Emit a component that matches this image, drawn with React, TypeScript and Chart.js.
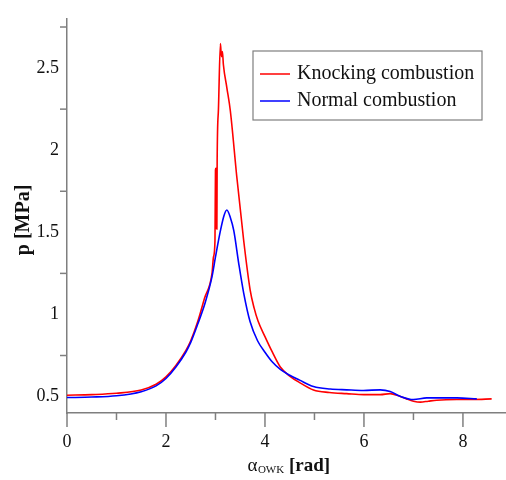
import React, { useEffect, useRef } from "react";
import { Chart, registerables } from "chart.js";

Chart.register(...registerables);

// Knocking combustion (red)
const knockAngle = [0, 0.5, 1.0, 1.5, 1.8, 2.0, 2.2, 2.4, 2.5, 2.64, 2.78, 2.93, 2.96, 2.99, 3.0, 3.01, 3.018, 3.028, 3.034, 3.06, 3.1, 3.12, 3.14, 3.16, 3.23, 3.3, 3.43, 3.57, 3.7, 3.78, 3.86, 4.0, 4.15, 4.31, 4.5, 4.7, 4.98, 5.3, 5.65, 6.0, 6.33, 6.53, 6.7, 6.86, 7.0, 7.14, 7.3, 7.47, 7.88, 8.21, 8.58];
const knockPressure = [0.508, 0.512, 0.52, 0.54, 0.575, 0.62, 0.69, 0.78, 0.84, 0.955, 1.1, 1.25, 1.35, 1.45, 1.88, 1.89, 1.53, 1.52, 1.94, 2.25, 2.65, 2.57, 2.6, 2.52, 2.38, 2.24, 1.84, 1.45, 1.15, 1.04, 0.96, 0.865, 0.77, 0.68, 0.625, 0.585, 0.54, 0.525, 0.518, 0.512, 0.512, 0.518, 0.505, 0.486, 0.472, 0.466, 0.472, 0.478, 0.482, 0.482, 0.486];

// Normal combustion (blue)
const normalAngle = [0, 0.5, 1.0, 1.5, 1.8, 2.0, 2.2, 2.4, 2.5, 2.64, 2.79, 2.93, 3.0, 3.1, 3.17, 3.23, 3.3, 3.37, 3.47, 3.57, 3.7, 3.85, 4.0, 4.15, 4.31, 4.5, 4.7, 4.98, 5.32, 5.65, 5.99, 6.33, 6.53, 6.73, 7.0, 7.27, 7.88, 8.28];
const normalPressure = [0.494, 0.497, 0.505, 0.53, 0.565, 0.61, 0.68, 0.77, 0.83, 0.94, 1.07, 1.23, 1.35, 1.51, 1.6, 1.636, 1.59, 1.51, 1.31, 1.13, 0.955, 0.84, 0.77, 0.71, 0.665, 0.63, 0.6, 0.561, 0.546, 0.541, 0.537, 0.541, 0.531, 0.502, 0.482, 0.492, 0.492, 0.486];

const xLabelTicks = [0, 2, 4, 6, 8];
const xMarkTicks = [0, 1, 2, 3, 4, 5, 6, 7, 8];
const yLabelTicks = [0.5, 1, 1.5, 2, 2.5];
const yMarkTicks = [0.75, 1.25, 1.75, 2.25, 2.75];

const seriesNames = ["Knocking combustion", "Normal combustion"];
const seriesColors = ["#ff0000", "#0000ff"];

const FONT = '"Liberation Serif", "Times New Roman", serif';
const AXIS_COLOR = "#7f7f7f";

const decorPlugin = {
  id: "decor",
  afterDraw(chart: any) {
    const ctx = chart.ctx;
    const xs = chart.scales.x;
    const ys = chart.scales.y;
    const area = chart.chartArea;
    ctx.save();
    ctx.strokeStyle = AXIS_COLOR;
    ctx.lineWidth = 1.5;
    // x tick marks
    xMarkTicks.forEach((v) => {
      const px = xs.getPixelForValue(v);
      const len = v % 2 === 0 ? 14 : 7;
      ctx.beginPath();
      ctx.moveTo(px, area.bottom);
      ctx.lineTo(px, area.bottom + len);
      ctx.stroke();
    });
    // y tick marks
    yMarkTicks.forEach((v) => {
      const py = ys.getPixelForValue(v);
      ctx.beginPath();
      ctx.moveTo(area.left - 7, py);
      ctx.lineTo(area.left, py);
      ctx.stroke();
    });

    // y title
    ctx.fillStyle = "#111";
    ctx.font = `bold 20px ${FONT}`;
    ctx.textAlign = "center";
    ctx.textBaseline = "middle";
    ctx.save();
    ctx.translate(24, (area.top + area.bottom) / 2 + 4);
    ctx.rotate(-Math.PI / 2);
    ctx.fillText("p [MPa]", 0, 0);
    ctx.restore();

    // x title: alpha with subscript OWK and bold [rad]
    const partA = "α";
    const partSub = "OWK";
    const partB = " [rad]";
    ctx.font = `19px ${FONT}`;
    const wA = ctx.measureText(partA).width;
    ctx.font = `11px ${FONT}`;
    const wSub = ctx.measureText(partSub).width;
    ctx.font = `bold 19px ${FONT}`;
    const wB = ctx.measureText(partB).width;
    const total = wA + wSub + wB;
    let tx = (area.left + area.right) / 2 - total / 2 + 2;
    const ty = 471;
    ctx.textAlign = "left";
    ctx.textBaseline = "alphabetic";
    ctx.font = `19px ${FONT}`;
    ctx.fillText(partA, tx, ty);
    tx += wA + 0.5;
    ctx.font = `11px ${FONT}`;
    ctx.fillText(partSub, tx, ty + 2);
    tx += wSub;
    ctx.font = `bold 19px ${FONT}`;
    ctx.fillText(partB, tx, ty);

    // legend
    const bx = 253, by = 51, bw = 229, bh = 69;
    ctx.fillStyle = "#ffffff";
    ctx.fillRect(bx, by, bw, bh);
    ctx.strokeStyle = AXIS_COLOR;
    ctx.lineWidth = 1.2;
    ctx.strokeRect(bx, by, bw, bh);
    const rows = [74, 101];
    ctx.font = `20px ${FONT}`;
    ctx.textBaseline = "middle";
    rows.forEach((ry, i) => {
      ctx.strokeStyle = seriesColors[i];
      ctx.lineWidth = 1.5;
      ctx.beginPath();
      ctx.moveTo(260, ry);
      ctx.lineTo(290, ry);
      ctx.stroke();
      ctx.fillStyle = "#111";
      ctx.fillText(seriesNames[i], 297, ry);
    });
    ctx.restore();
  },
};

export default function App() {
  const ref = useRef<HTMLCanvasElement | null>(null);

  useEffect(() => {
    if (!ref.current) return;
    const toPoints = (xs: number[], ys: number[]) => xs.map((x, i) => ({ x, y: ys[i] }));
    const chart = new Chart(ref.current, {
      type: "line",
      data: {
        datasets: [
          {
            label: seriesNames[0],
            data: toPoints(knockAngle, knockPressure),
            borderColor: seriesColors[0],
            borderWidth: 1.6,
            pointRadius: 0,
            cubicInterpolationMode: "monotone",
            order: 1,
          },
          {
            label: seriesNames[1],
            data: toPoints(normalAngle, normalPressure),
            borderColor: seriesColors[1],
            borderWidth: 1.6,
            pointRadius: 0,
            cubicInterpolationMode: "monotone",
            order: 0,
          },
        ],
      },
      options: {
        animation: false,
        responsive: false,
        devicePixelRatio: 1,
        layout: { padding: { top: 8, left: 0, right: 0, bottom: 0 } },
        plugins: { legend: { display: false }, tooltip: { enabled: false } },
        scales: {
          x: {
            type: "linear",
            min: 0,
            max: 8.87,
            grid: { display: false, drawTicks: false },
            border: { display: true, color: AXIS_COLOR, width: 1.5 },
            afterBuildTicks: (s: any) => {
              s.ticks = xLabelTicks.map((v) => ({ value: v }));
            },
            afterFit: (s: any) => {
              s.height = 67;
            },
            ticks: {
              padding: 18,
              maxRotation: 0,
              autoSkip: false,
              color: "#111",
              font: { family: FONT, size: 18 },
              callback: (v: any) => String(v),
            },
          },
          y: {
            type: "linear",
            min: 0.4,
            max: 2.8,
            grid: { display: false, drawTicks: false },
            border: { display: true, color: AXIS_COLOR, width: 1.5 },
            afterBuildTicks: (s: any) => {
              s.ticks = yLabelTicks.map((v) => ({ value: v }));
            },
            afterFit: (s: any) => {
              s.width = 67;
            },
            ticks: {
              padding: 8,
              autoSkip: false,
              color: "#111",
              font: { family: FONT, size: 18 },
              callback: (v: any) => String(v),
            },
          },
        },
      },
      plugins: [decorPlugin],
    });
    return () => chart.destroy();
  }, []);

  return (
    <div style={{ position: "absolute", left: 0, top: 0, width: 506, height: 480, background: "#fff" }}>
      <canvas ref={ref} width={506} height={480} style={{ display: "block", width: 506, height: 480 }} />
    </div>
  );
}
